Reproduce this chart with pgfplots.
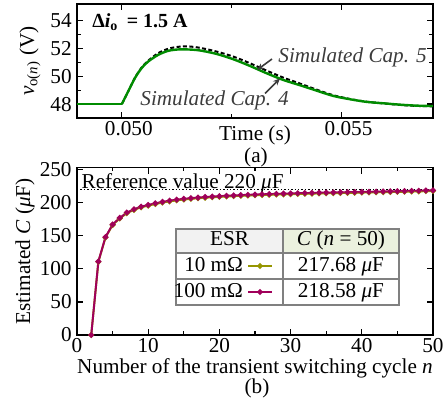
\documentclass[border=0pt]{standalone}
\usepackage{fontspec}
\setmainfont{Liberation Serif}
\usepackage{pgfplots}
\pgfplotsset{compat=1.18}
\usetikzlibrary{arrows.meta}
\definecolor{cgreen}{RGB}{0,140,0}
\definecolor{cpurple}{RGB}{160,0,90}
\definecolor{colive}{RGB}{150,150,0}
\definecolor{hgray}{RGB}{242,242,242}
\definecolor{hgreen}{RGB}{235,241,222}
\definecolor{tborder}{RGB}{128,128,128}
\definecolor{anno}{RGB}{60,60,60}
\pgfplotsset{
  myaxis/.style={
    scale only axis, width=178pt,
    axis line style={line width=0.8pt},
    tick style={line width=0.6pt, black},
    tick align=inside,
    major tick length=3pt, minor tick length=1.8pt,
    /pgf/number format/assume math mode=true,
    scaled x ticks=false, scaled y ticks=false,
    yticklabel={\pgfmathprintnumber[assume math mode=true]{\tick}},
    xticklabel style={inner sep=0.5pt, yshift=-1pt},
    yticklabel style={inner sep=0.5pt, xshift=-2pt},
  }
}
\begin{document}
\fontsize{10.6}{12.7}\selectfont
\begin{tikzpicture}
\useasboundingbox (0,0) rectangle (222pt,201pt);
% ---------- top axis ----------
\begin{axis}[myaxis,
  at={(38.5pt,142pt)}, anchor=south west, height=57pt,
  xmin=0.04898, xmax=0.05708, ymin=47, ymax=55.2,
  xtick={0.05,0.055}, xticklabels={0.050,0.055}, minor x tick num=1,
  xticklabel style={xshift=3.5pt},
  ytick={48,50,52,54}, minor y tick num=1,
  xlabel={Time (s)},
  xlabel style={at={(axis description cs:0.5,0)}, anchor=center, yshift=-8.5pt, inner sep=0pt},
  ylabel={{\itshape v}\textsubscript{o(\textit{n})} (V)},
  ylabel style={at={(axis description cs:-0.132,0.5)}, anchor=center},
]
\addplot[black, line width=1pt, dash pattern=on 2pt off 1.2pt, smooth, tension=0.5] coordinates {
(0.05,48) (0.050143,48.90) (0.050296,49.88) (0.050448,50.62) (0.050599,51.12)
(0.050826,51.66) (0.051054,51.98) (0.051281,52.12) (0.051509,52.15) (0.051775,52.05)
(0.052155,51.78) (0.052533,51.42) (0.052913,50.94) (0.053293,50.41) (0.053671,49.91)
(0.054051,49.48) (0.054431,49.04) (0.054809,48.64) (0.055189,48.37) (0.055569,48.17)
(0.055947,48.05) (0.056327,47.94) (0.056700,47.87) (0.05708,47.84)
};
\addplot[cgreen, line width=1.2pt] coordinates {(0.04898,48) (0.05,48)};
\addplot[cgreen, line width=1.2pt, smooth, tension=0.5] coordinates {
(0.05,48) (0.050143,48.90) (0.050296,49.86) (0.050448,50.58) (0.050599,51.06)
(0.050826,51.54) (0.051054,51.83) (0.051281,51.93) (0.051509,51.93) (0.051775,51.86)
(0.052155,51.61) (0.052533,51.23) (0.052913,50.75) (0.053293,50.22) (0.053671,49.74)
(0.054051,49.36) (0.054431,48.97) (0.054809,48.59) (0.055189,48.35) (0.055569,48.16)
(0.055947,48.06) (0.056327,47.96) (0.056700,47.89) (0.05708,47.86)
};
\end{axis}
\node[anchor=west, inner sep=0pt] at (46pt,190pt) {\fontsize{10}{12}\selectfont\bfseries Δ\textit{i}\textsubscript{o}\, = 1.5 A};
\node[anchor=west, inner sep=0pt, text=anno] at (139pt,172.5pt) {\itshape Simulated Cap. 5};
\node[anchor=west, inner sep=0pt, text=anno] at (70pt,151pt) {\itshape Simulated Cap. 4};
\draw[anno, line width=0.8pt, -{Stealth[length=3.5pt,width=3pt]}] (136pt,171.5pt) -- (128.5pt,166pt);
\draw[anno, line width=0.8pt, -{Stealth[length=3.5pt,width=3pt]}] (132.5pt,154.3pt) -- (140pt,161.8pt);
\node[inner sep=0pt] at (128pt,122.5pt) {(a)};
% ---------- table ----------
\fill[hgray] (88pt,74.5pt) rectangle (141.5pt,86.5pt);
\fill[hgreen] (141.5pt,74.5pt) rectangle (199.5pt,86.5pt);
\fill[white] (88pt,48.5pt) rectangle (199.5pt,74.5pt);
\draw[tborder, line width=0.8pt] (88pt,48.5pt) rectangle (199.5pt,86.5pt);
\draw[tborder, line width=0.8pt] (88pt,74.5pt) -- (199.5pt,74.5pt);
\draw[tborder, line width=0.8pt] (88pt,61.5pt) -- (199.5pt,61.5pt);
\draw[tborder, line width=0.8pt] (141.5pt,48.5pt) -- (141.5pt,86.5pt);
\node[text height=7.3pt, text depth=2.3pt, inner sep=0pt] at (114.75pt,80.5pt) {ESR};
\node[text height=7.3pt, text depth=2.3pt, inner sep=0pt] at (170.5pt,80.5pt) {\textit{C} (\textit{n} = 50)};
\node[text height=7.3pt, text depth=2.3pt, inner sep=0pt] at (170.5pt,68pt) {217.68 \textit{μ}F};
\node[text height=7.3pt, text depth=2.3pt, inner sep=0pt] at (170.5pt,55pt) {218.58 \textit{μ}F};
% ---------- bottom axis ----------
\begin{axis}[myaxis,
  at={(38.5pt,33.5pt)}, anchor=south west, height=83.7pt,
  xmin=0, xmax=50, ymin=0, ymax=253,
  xtick={0,10,...,50}, minor x tick num=1,
  xticklabel={\pgfmathprintnumber[assume math mode=true]{\tick}},
  ytick={0,50,...,250},
  xlabel={Number of the transient switching cycle \textit{n}},
  xlabel style={at={(axis description cs:0.5,0)}, anchor=center, yshift=-16.5pt, inner sep=0pt},
  ylabel={Estimated \textit{C} (\textit{μ}F)},
  ylabel style={at={(axis description cs:-0.146,0.5)}, anchor=center},
  legend style={at={(0.5506,0.3345)}, anchor=east, draw=none, fill=none,
    inner sep=0pt, outer sep=0pt, row sep=0pt, column sep=0.5pt,
    nodes={text height=7.5pt, text depth=2.5pt, inner sep=1.5pt}},
  legend plot pos=right, legend cell align=right,
  legend image code/.code={\draw[mark repeat=2,mark phase=2,#1] plot coordinates {(0pt,0pt) (6pt,0pt) (12pt,0pt)};},
]
\addplot[black, densely dotted, line width=0.7pt, forget plot] coordinates {(0,220) (50,220)};
\addplot[colive, line width=1pt, mark=*, mark size=0.9pt] coordinates {
(2,0) (3,110.5) (4,147.3) (5,166.3) (6,176.2) (7,184.1) (8,189.1) (9,193.0) (10,195.5)
(11,198.0) (12,200.2) (13,202.0) (14,203.5) (15,204.8) (16,205.8) (17,206.7) (18,207.5)
(19,208.2) (20,208.8) (21,209.4) (22,209.9) (23,210.4) (24,210.8) (25,211.2) (26,211.6)
(27,211.9) (28,212.3) (29,212.6) (30,212.9) (31,213.2) (32,213.5) (33,213.7) (34,214.0)
(35,214.2) (36,214.4) (37,214.6) (38,214.8) (39,215.0) (40,215.3) (41,215.5) (42,215.7)
(43,215.9) (44,216.1) (45,216.3) (46,216.6) (47,216.9) (48,217.1) (49,217.4) (50,217.68)
};
\addlegendentry{10 mΩ}
\addplot[cpurple, line width=1pt, mark=*, mark size=0.9pt] coordinates {
(2,0) (3,111) (4,148) (5,167) (6,177) (7,185) (8,190) (9,194) (10,196.5)
(11,199) (12,201.2) (13,203) (14,204.5) (15,205.8) (16,206.8) (17,207.7) (18,208.5)
(19,209.2) (20,209.8) (21,210.4) (22,210.9) (23,211.4) (24,211.8) (25,212.2) (26,212.6)
(27,212.9) (28,213.3) (29,213.6) (30,213.9) (31,214.2) (32,214.5) (33,214.7) (34,215.0)
(35,215.2) (36,215.4) (37,215.6) (38,215.8) (39,216.0) (40,216.2) (41,216.4) (42,216.6)
(43,216.8) (44,217.0) (45,217.2) (46,217.5) (47,217.8) (48,218.0) (49,218.3) (50,218.58)
};
\addlegendentry{100 mΩ}
\node[anchor=base west, inner sep=0pt] at (axis cs:0.6,221.5) {Reference value 220 \textit{μ}F};
\end{axis}
\node[inner sep=0pt] at (128.5pt,7pt) {(b)};
\end{tikzpicture}
\end{document}
